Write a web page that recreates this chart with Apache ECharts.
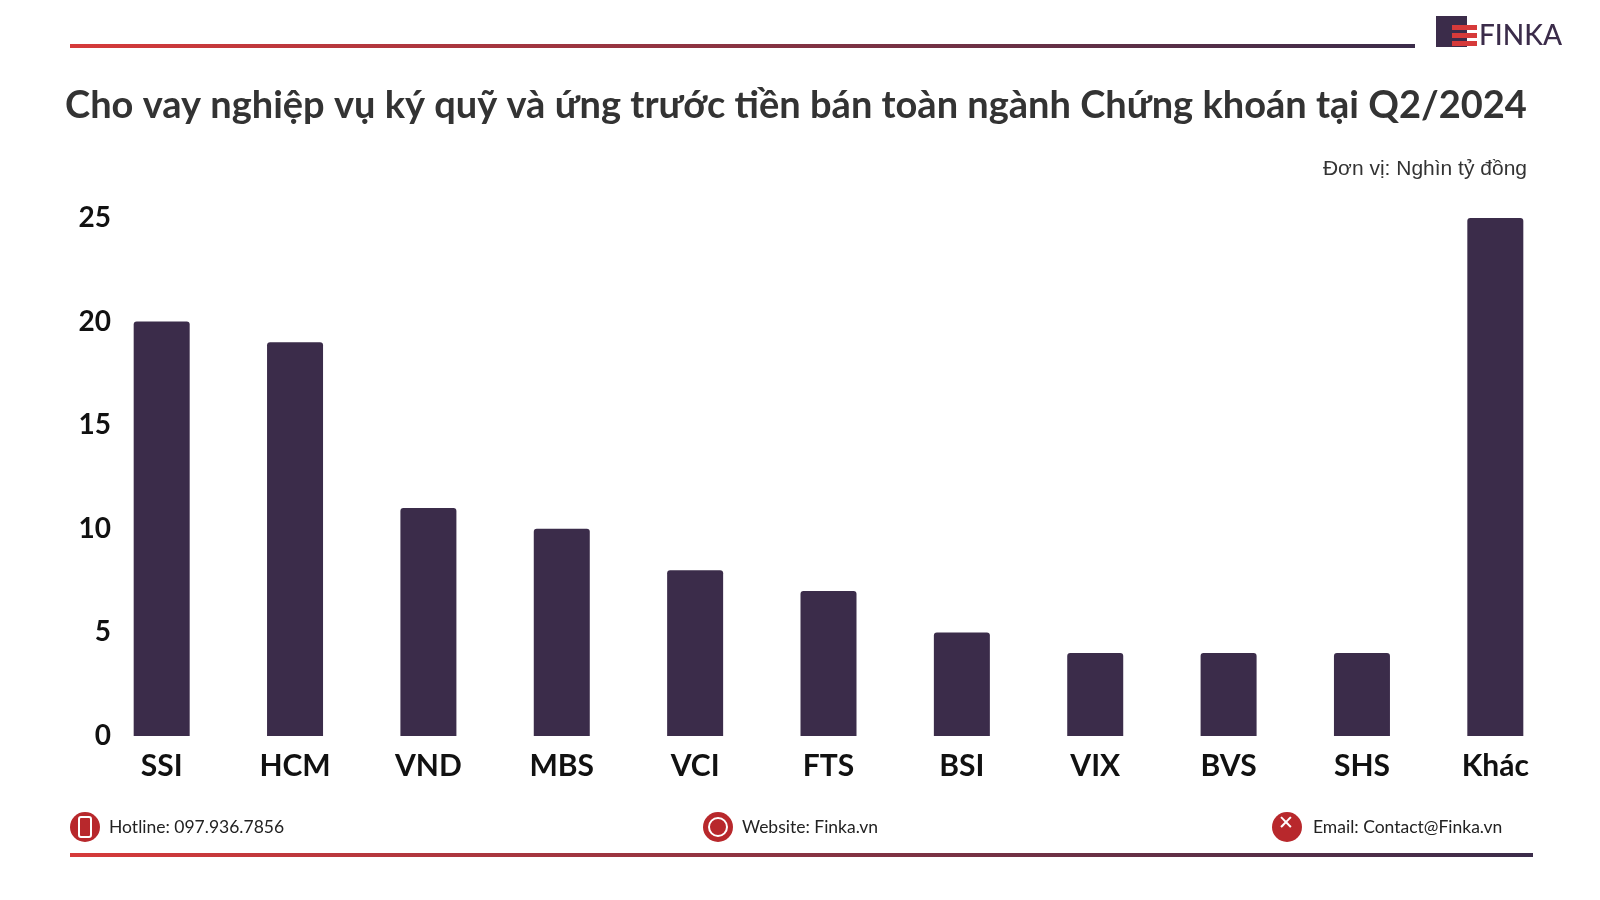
<!DOCTYPE html>
<html><head><meta charset="utf-8">
<script src="https://cdn.jsdelivr.net/npm/echarts@6/dist/echarts.min.js"></script>
<style>html,body{margin:0;background:#fff}#main{width:1600px;height:900px}</style>
</head><body><div id="main"></div>
<script>
const categories = ['SSI', 'HCM', 'VND', 'MBS', 'VCI', 'FTS', 'BSI', 'VIX', 'BVS', 'SHS', 'Khác'];
const values = [20, 19, 11, 10, 8, 7, 5, 4, 4, 4, 25];
const yTicks = [0, 5, 10, 15, 20, 25];

const chart = echarts.init(document.getElementById('main'));
const grad = (c1, c2) => new echarts.graphic.LinearGradient(0, 0, 1, 0, [{offset: 0, color: c1}, {offset: 1, color: c2}]);
const footIcon = (x, y) => ({type: 'circle', shape: {cx: x, cy: y, r: 15}, style: {fill: '#b8282c'}});
const option = {
  backgroundColor: '#fff',
  textStyle: {fontFamily: 'Lato'},
  title: {
    text: 'Cho vay nghiệp vụ ký quỹ và ứng trước tiền bán toàn ngành Chứng khoán tại Q2/2024',
    left: 60, top: 82,
    textStyle: {fontFamily: 'Lato', fontSize: 38, fontWeight: 'bold', color: '#333'}
  },
  grid: {left: 95, right: 38, top: 218, bottom: 164},
  xAxis: {
    type: 'category', data: categories,
    axisLine: {show: false}, axisTick: {show: false},
    axisLabel: {fontSize: 30, fontWeight: 'bold', color: '#111', margin: 15}
  },
  yAxis: {
    type: 'value', min: 0, max: 25, interval: 5,
    splitLine: {show: false}, axisLine: {show: false}, axisTick: {show: false},
    axisLabel: {fontSize: 28, fontWeight: 'bold', color: '#111', margin: -16,
      formatter: v => yTicks.includes(v) ? String(v) : ''}
  },
  series: [{
    type: 'bar', data: values, barWidth: 56,
    itemStyle: {color: '#3b2c4a', borderRadius: [3, 3, 0, 0]}
  }],
  graphic: [
    {type: 'rect', shape: {x: 70, y: 44, width: 1345, height: 4}, style: {fill: grad('#d63a3a', '#3b2c4a')}},
    {type: 'rect', shape: {x: 70, y: 853, width: 1463, height: 4}, style: {fill: grad('#d63a3a', '#3b2c4a')}},
    {type: 'rect', shape: {x: 1436, y: 16, width: 31, height: 31}, style: {fill: '#3b2c4a'}},
    {type: 'rect', shape: {x: 1452, y: 25, width: 25, height: 5}, style: {fill: '#d63a3a'}},
    {type: 'rect', shape: {x: 1452, y: 33, width: 25, height: 5}, style: {fill: '#d63a3a'}},
    {type: 'rect', shape: {x: 1452, y: 41, width: 25, height: 5}, style: {fill: '#d63a3a'}},
    {type: 'text', left: 1479, top: 22, style: {text: 'FINKA', font: '500 28px Lato', fill: '#3b2c4a'}},
    {type: 'text', right: 73, top: 159, style: {text: 'Đơn vị: Nghìn tỷ đồng', font: '21px "Liberation Sans"', fill: '#333'}},
    footIcon(85, 827), footIcon(718, 827), footIcon(1287, 827),
    {type: 'rect', shape: {x: 79, y: 817, width: 12, height: 20, r: 2}, style: {fill: 'none', stroke: '#fff', lineWidth: 2}},
    {type: 'circle', shape: {cx: 718, cy: 827, r: 9}, style: {fill: 'none', stroke: '#fff', lineWidth: 2}},
    {type: 'text', left: 1278, top: 815, style: {text: '✕', font: 'bold 19px "DejaVu Sans"', fill: '#fff'}},
    {type: 'text', left: 109, top: 818, style: {text: 'Hotline: 097.936.7856', font: '17.5px Lato', fill: '#222'}},
    {type: 'text', left: 742, top: 818, style: {text: 'Website: Finka.vn', font: '17.5px Lato', fill: '#222'}},
    {type: 'text', left: 1313, top: 818, style: {text: 'Email: Contact@Finka.vn', font: '17.5px Lato', fill: '#222'}}
  ]
};
chart.setOption(option);
</script></body></html>
